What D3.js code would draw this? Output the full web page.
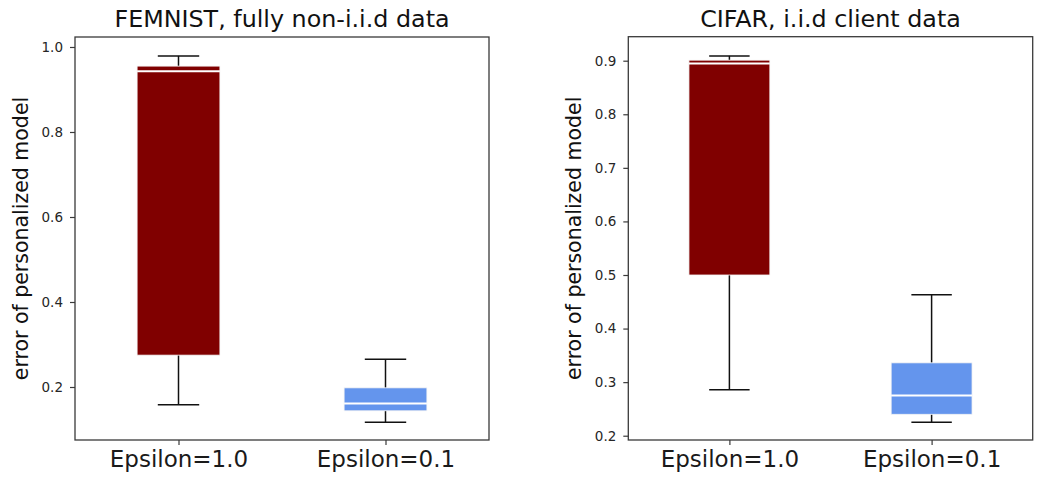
<!DOCTYPE html>
<html><head><meta charset="utf-8">
<script src="https://cdn.jsdelivr.net/npm/d3@7"></script>
<style>
html,body{margin:0;padding:0;background:#fff;}
svg{display:block;font-family:"DejaVu Sans",sans-serif;}
</style></head>
<body>
<svg id="chart" width="1064" height="485"></svg>
<script>
// ---- data ----
const categories = ["Epsilon=1.0", "Epsilon=0.1"];
const positions = [1, 2];
const boxColors = ["#800000", "#6495ED"];

const femnistTitle = "FEMNIST, fully non-i.i.d data";
const femnistLow    = [0.158, 0.117];
const femnistQ1     = [0.275, 0.144];
const femnistMedian = [0.943, 0.161];
const femnistQ3     = [0.955, 0.198];
const femnistHigh   = [0.979, 0.265];
const femnistTicks  = [0.2, 0.4, 0.6, 0.8, 1.0];
const femnistDomain = [0.0753, 1.0235];

const cifarTitle = "CIFAR, i.i.d client data";
const cifarLow    = [0.286, 0.225];
const cifarQ1     = [0.500, 0.240];
const cifarMedian = [0.895, 0.275];
const cifarQ3     = [0.901, 0.336];
const cifarHigh   = [0.909, 0.463];
const cifarTicks  = [0.2, 0.3, 0.4, 0.5, 0.6, 0.7, 0.8, 0.9];
const cifarDomain = [0.192, 0.9448];

const yLabel = "error of personalized model";

// ---- drawing ----
const svg = d3.select("#chart");

function panel(opts) {
  const {left, right, top, bottom, title, low, q1, med, q3, high, ticks, domain} = opts;
  const g = svg.append("g");
  const x = d3.scaleLinear().domain([0.5, 2.5]).range([left, right]);
  const y = d3.scaleLinear().domain(domain).range([bottom, top]);
  const boxW = 0.4, capW = 0.2;

  const data = categories.map((c, i) => ({
    c, p: positions[i], low: low[i], q1: q1[i], med: med[i], q3: q3[i], high: high[i], color: boxColors[i]
  }));

  const b = g.selectAll("g.box").data(data).join("g").attr("class", "box");
  // whiskers
  b.append("line")
    .attr("x1", d => x(d.p)).attr("x2", d => x(d.p))
    .attr("y1", d => y(d.q3)).attr("y2", d => y(d.high))
    .attr("stroke", "#111").attr("stroke-width", 1.5);
  b.append("line")
    .attr("x1", d => x(d.p)).attr("x2", d => x(d.p))
    .attr("y1", d => y(d.q1)).attr("y2", d => y(d.low))
    .attr("stroke", "#111").attr("stroke-width", 1.5);
  // caps
  ["high", "low"].forEach(k => {
    b.append("line")
      .attr("x1", d => x(d.p - capW / 2)).attr("x2", d => x(d.p + capW / 2))
      .attr("y1", d => y(d[k])).attr("y2", d => y(d[k]))
      .attr("stroke", "#111").attr("stroke-width", 1.5);
  });
  // box
  b.append("rect")
    .attr("x", d => x(d.p - boxW / 2))
    .attr("width", d => x(d.p + boxW / 2) - x(d.p - boxW / 2))
    .attr("y", d => y(d.q3))
    .attr("height", d => y(d.q1) - y(d.q3))
    .attr("fill", d => d.color)
    .attr("stroke", "#f4f4f4").attr("stroke-width", 0.8);
  // median
  b.append("line")
    .attr("x1", d => x(d.p - boxW / 2)).attr("x2", d => x(d.p + boxW / 2))
    .attr("y1", d => y(d.med)).attr("y2", d => y(d.med))
    .attr("stroke", "#ffffff").attr("stroke-width", 2);

  // frame
  g.append("rect")
    .attr("x", left).attr("y", top)
    .attr("width", right - left).attr("height", bottom - top)
    .attr("fill", "none").attr("stroke", "#3a3a3a").attr("stroke-width", 1.3);

  // y axis
  const ya = g.append("g").attr("transform", `translate(${left},0)`)
    .call(d3.axisLeft(y).tickValues(ticks).tickFormat(d3.format(".1f")).tickSize(5).tickPadding(7));
  ya.select(".domain").remove();
  ya.selectAll(".tick line").attr("stroke", "#3a3a3a").attr("stroke-width", 1.2);
  ya.selectAll(".tick text").attr("font-size", 13.5).attr("fill", "#262626")
    .attr("font-family", "DejaVu Sans");

  // x axis
  const xa = g.append("g").attr("transform", `translate(0,${bottom})`)
    .call(d3.axisBottom(x).tickValues(positions).tickFormat((d, i) => categories[i]).tickSize(5).tickPadding(6));
  xa.select(".domain").remove();
  xa.selectAll(".tick line").attr("stroke", "#3a3a3a").attr("stroke-width", 1.2);
  xa.selectAll(".tick text").attr("font-size", 23).attr("fill", "#1a1a1a")
    .attr("font-family", "DejaVu Sans").attr("dy", null).attr("y", 27);

  // title
  g.append("text")
    .attr("x", (left + right) / 2).attr("y", 27)
    .attr("text-anchor", "middle").attr("font-size", 23.8).attr("fill", "#111")
    .text(title);

  // y label
  g.append("text")
    .attr("transform", `translate(${left - 47},${(top + bottom) / 2}) rotate(-90)`)
    .attr("text-anchor", "middle").attr("font-size", 20.5).attr("fill", "#111")
    .text(yLabel);
}

panel({left: 75, right: 489, top: 37, bottom: 440, title: femnistTitle,
  low: femnistLow, q1: femnistQ1, med: femnistMedian, q3: femnistQ3, high: femnistHigh,
  ticks: femnistTicks, domain: femnistDomain});
panel({left: 628.3, right: 1032.7, top: 36.7, bottom: 440, title: cifarTitle,
  low: cifarLow, q1: cifarQ1, med: cifarMedian, q3: cifarQ3, high: cifarHigh,
  ticks: cifarTicks, domain: cifarDomain});
</script>
</body></html>
